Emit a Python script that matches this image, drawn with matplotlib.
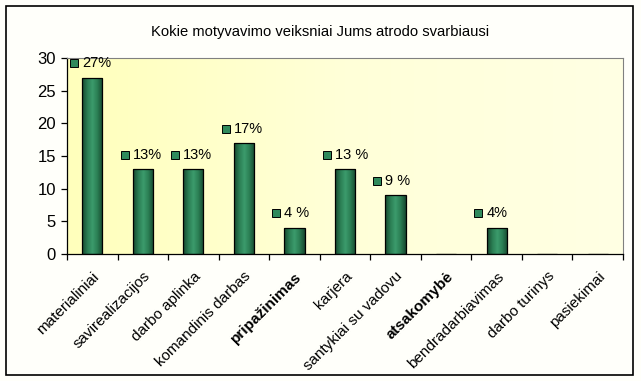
import matplotlib
matplotlib.use("Agg")
import matplotlib.pyplot as plt
from matplotlib.patches import Rectangle
from matplotlib.colors import LinearSegmentedColormap
from matplotlib.transforms import ScaledTranslation
import numpy as np

plt.rcParams['font.family'] = ['Liberation Sans', 'DejaVu Sans']

# data
kategorijos = ["materialiniai", "savirealizacijos", "darbo aplinka", "komandinis darbas",
               "pripažinimas", "karjera", "santykiai su vadovu", "atsakomybė",
               "bendradarbiavimas", "darbo turinys", "pasiekimai"]
reiksmes = [27, 13, 13, 17, 4, 13, 9, 0, 4, 0, 0]
procentai = ["27%", "13%", "13%", "17%", "4 %", "13 %", "9 %", "", "4%", "", ""]
parysinti = ["pripažinimas", "atsakomybė"]

fig = plt.figure(figsize=(6.41, 3.81), dpi=100)
fig.patch.set_facecolor("#fffffa")
ax = fig.add_axes([67/641, 1-254/381, (623-67)/641, (254-58)/381])

x = np.arange(len(kategorijos))
ax.set_xlim(-0.5, len(kategorijos) - 0.5)
ax.set_ylim(0, 30)

# plot area background: pale yellow fading to the right
bg = LinearSegmentedColormap.from_list("bg", ["#ffffbc", "#ffffd8", "#ffffe4"])
ax.imshow(np.linspace(0, 1, 256).reshape(1, -1), cmap=bg, aspect="auto",
          extent=[-0.5, len(kategorijos) - 0.5, 0, 30], zorder=0)

# bars with a dark-light-dark green gradient
grad = LinearSegmentedColormap.from_list("g", ["#17482f", "#2a7d53", "#3c9c6c", "#2a7d53", "#17482f"])
bars = ax.bar(x, reiksmes, width=0.4, color="none", edgecolor="black", linewidth=0.9, zorder=3)
for b in bars:
    if b.get_height() <= 0:
        continue
    im = ax.imshow(np.linspace(0, 1, 64).reshape(1, -1), cmap=grad, aspect="auto",
                   extent=[b.get_x(), b.get_x() + b.get_width(), 0, b.get_height()], zorder=2)
    im.set_clip_path(b)

# percentage labels with small green square
for xi, v, p in zip(x, reiksmes, procentai):
    if not p:
        continue
    ax.plot(xi - 0.36, v + 2.2, marker="s", ms=6, mfc="#2f8a5c", mec="black", mew=0.7,
            zorder=4, clip_on=False)
    ax.text(xi - 0.2, v + 2.2, p, fontsize=10.5, va="center", ha="left", zorder=4)

ax.set_xticks(x)
ax.set_xticklabels(kategorijos, rotation=45, ha="right", rotation_mode="anchor", fontsize=11)
shift = ScaledTranslation(-0.13, 0.02, fig.dpi_scale_trans)
for lbl in ax.get_xticklabels():
    lbl.set_transform(lbl.get_transform() + shift)
    if lbl.get_text() in parysinti:
        lbl.set_fontweight("bold")
ax.set_xticks(np.arange(-0.5, len(kategorijos)), minor=True)
ax.tick_params(axis="x", which="major", length=0, pad=11)
ax.tick_params(axis="x", which="minor", length=4, direction="out", width=0.9)
ax.set_yticks(range(0, 31, 5))
ax.tick_params(axis="y", length=4, width=0.9, labelsize=12, pad=4)

ax.spines["top"].set_color("#808080")
ax.spines["top"].set_linestyle((0, (1, 1)))
ax.spines["right"].set_color("#808080")
ax.spines["right"].set_linestyle((0, (1, 1)))
ax.spines["left"].set_linewidth(0.9)
ax.spines["bottom"].set_linewidth(0.9)

fig.text(320/641, 1-32/381, "Kokie motyvavimo veiksniai Jums atrodo svarbiausi",
         ha="center", va="center", fontsize=10.6)

# outer chart border
fig.patches.append(Rectangle((6/641, 6/381), 627/641, 369/381, transform=fig.transFigure,
                             fill=False, edgecolor="black", linewidth=1.2))

fig.savefig("out.png", dpi=100)
